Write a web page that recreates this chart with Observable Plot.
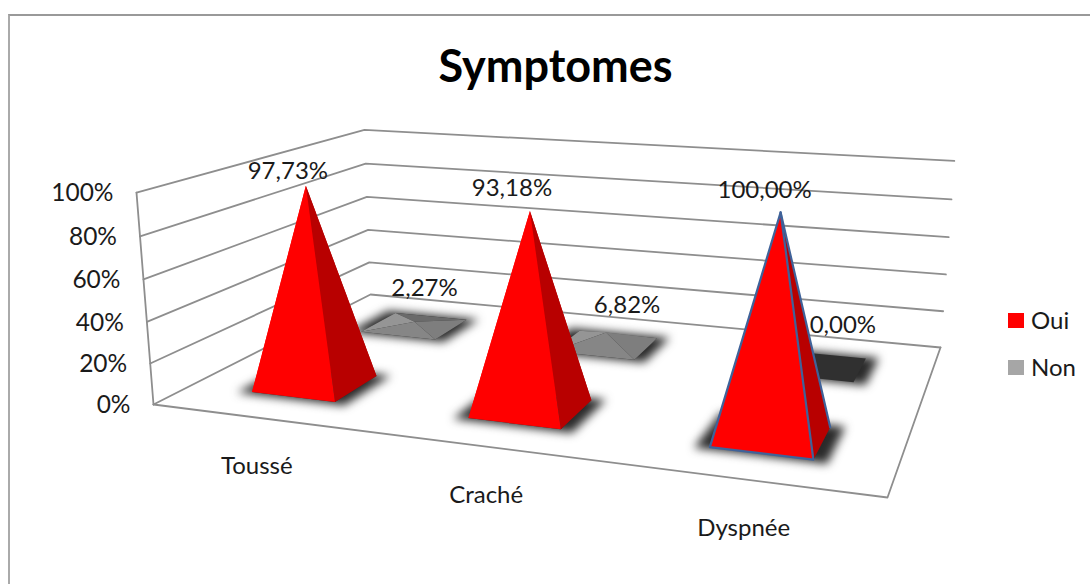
<!DOCTYPE html>
<html lang="fr">
<head>
<meta charset="utf-8">
<script src="https://cdn.jsdelivr.net/npm/d3@7"></script>
<script src="https://cdn.jsdelivr.net/npm/@observablehq/plot@0.6"></script>
<style>
  html, body { margin: 0; padding: 0; background: #fff; }
  #chart { position: relative; width: 1090px; height: 584px; overflow: hidden; font-family: Lato, sans-serif; color: #1a1a1a; }
  #frame { position: absolute; left: 8px; top: 14px; right: -4px; bottom: -4px; border-left: 2px solid #aaa; border-top: 2px solid #999; }
  #title { position: absolute; left: 0; top: 38px; width: 1111px; text-align: center; font-size: 45px; font-weight: 700; color: #000; line-height: 54px; }
  .legend-row { position: absolute; left: 1008px; display: flex; align-items: center; gap: 7px; font-size: 24px; line-height: 26px; }
  .swatch { width: 16px; height: 15px; display: inline-block; }
</style>
</head>
<body>
<div id="chart"></div>
<script>
const categories = ["Toussé", "Craché", "Dyspnée"];
const seriesNames = ["Oui", "Non"];
const oui = [97.73, 93.18, 100.0];
const non = [2.27, 6.82, 0.0];
const ticks = [0, 20, 40, 60, 80, 100];

// Camera: the floor corners on screen (front-left, front-right, back-right,
// back-left), the point where the verticals converge, and the strength of
// the vertical axis.
const floorQuad = [[153, 404], [887, 497], [940, 347], [370, 294]];
const verticalVanish = [560, 5477];
const verticalGain = -0.0401;

const camera = (() => {
  const [[x0, y0], [x1, y1], [x2, y2], [x3, y3]] = floorQuad;
  const dx1 = x1 - x2, dx2 = x3 - x2, sx = x0 - x1 + x2 - x3;
  const dy1 = y1 - y2, dy2 = y3 - y2, sy = y0 - y1 + y2 - y3;
  const den = dx1 * dy2 - dx2 * dy1;
  const g = (sx * dy2 - dx2 * sy) / den;
  const h = (dx1 * sy - sx * dy1) / den;
  return {
    a: x1 - x0 + g * x1, b: x3 - x0 + h * x3, c: x0,
    d: y1 - y0 + g * y1, e: y3 - y0 + h * y3, f: y0, g, h
  };
})();

// u runs along the categories, v into the depth, value is in percent.
function project(u, v, value) {
  const { a, b, c, d, e, f, g, h } = camera;
  const t = (verticalGain * value) / 100;
  const w = g * u + h * v + 1 + t;
  return {
    x: (a * u + b * v + c + t * verticalVanish[0]) / w,
    y: (d * u + e * v + f + t * verticalVanish[1]) / w
  };
}

// Gridlines on the left and back walls, then the floor outline.
const gridLines = ticks.flatMap((t) => [
  { id: t, ...project(0, 0, t) }, { id: t, ...project(0, 1, t) }, { id: t, ...project(1, 1, t) }
]);
const floorEdge = [[0, 0], [1, 0], [1, 1]].map(([u, v]) => project(u, v, 0));
const wallEdge = [project(0, 0, 100), project(0, 0, 0)];

// Pyramids: half-width along the categories and along the depth.
const du = 0.066, dv = 0.097;
const faceColors = {
  Oui: { back: "#b40000", left: "#ff0000", right: "#b80000", front: "#ff0000" },
  Non: { back: "#6a6a6a", left: "#959595", right: "#7e7e7e", front: "#868686" }
};
const rows = [
  { name: "Non", v: 0.75, values: non },
  { name: "Oui", v: 0.24, values: oui }
];
const centre = (i) => (i + 0.5) / categories.length - 0.002;

const faces = [], shadows = [], bases = [];
for (const { name, v, values } of rows) {
  values.forEach((value, i) => {
    const u = centre(i);
    const corner = (su, sv, ku = 1, kv = 1) => project(u + su * du * ku, v + sv * dv * kv, 0);
    const fl = corner(-1, -1), fr = corner(1, -1), br = corner(1, 1), bl = corner(-1, 1);
    const apex = project(u, v, value);
    const id = `${name}-${i}`;
    for (const [su, sv] of [[-1, -1], [1, -1], [1, 1], [-1, 1]]) {
      shadows.push({ id, ...corner(su, sv, 1.28, 1.14) });
    }
    for (const p of [fl, fr, br, bl]) bases.push({ id, ...p });
    if (value <= 0) return;
    const sides = { back: [bl, br], left: [fl, bl], right: [fr, br], front: [fl, fr] };
    for (const side of ["back", "left", "right", "front"]) {
      for (const p of [...sides[side], apex]) {
        faces.push({ id: `${id}-${side}`, fill: faceColors[name][side], ...p });
      }
    }
  });
}

// The last category of the front row carries a blue outline.
const outlineAt = (() => {
  const u = centre(2), v = rows[1].v, value = oui[2];
  const p = (su, sv) => project(u + su * du, v + sv * dv, 0);
  const apex = project(u, v, value);
  return [
    ...[p(-1, -1), p(1, -1), apex].map((q) => ({ id: "front", ...q })),
    ...[apex, p(1, 1)].map((q) => ({ id: "ridge", ...q }))
  ];
})();

// Value labels sit near the tip of each pyramid, each with its own nudge.
const ouiNudge = [[-18, -14], [-18, -23], [-16, -22]];
const nonNudge = [[10, -33], [21, -27], [27, -40]];
const valueFmt = (n) => n.toFixed(2).replace(".", ",") + "%";
const valueLabels = [
  ...oui.map((n, i) => ({ text: valueFmt(n), nudge: ouiNudge[i], ...project(centre(i), rows[1].v, n) })),
  ...non.map((n, i) => ({ text: valueFmt(n), nudge: nonNudge[i], ...project(centre(i), rows[0].v, n) }))
];
const tickLabels = ticks.map((t) => ({ text: `${t}%`, ...project(0, 0, t) }));
const categoryLabels = categories.map((text, i) => ({ text, ...project(centre(i), 0, 0) }));

// Soft edge for the contact shadows under the pyramids.
const softened = (index, scales, values, dims, ctx, next) => {
  const g = next(index, scales, values, dims, ctx);
  g.style.filter = "blur(5px)";
  return g;
};

const grey = "#8e8e8e";
const ink = "#1a1a1a";
const svg = Plot.plot({
  width: 1090,
  height: 584,
  margin: 0,
  x: { domain: [0, 1090], range: [0, 1090], axis: null },
  y: { domain: [0, 584], range: [0, 584], axis: null },
  color: { type: "identity" },
  style: { background: "transparent", fontFamily: "Lato, sans-serif", color: ink },
  marks: [
    Plot.line(gridLines, { x: "x", y: "y", z: "id", stroke: grey, strokeWidth: 1.8 }),
    Plot.line(wallEdge, { x: "x", y: "y", stroke: grey, strokeWidth: 1.8 }),
    Plot.line(floorEdge, { x: "x", y: "y", stroke: grey, strokeWidth: 1.8 }),
    Plot.line(shadows, { x: "x", y: "y", z: "id", curve: "linear-closed", fill: "#2a2a2a", stroke: "none", render: softened }),
    Plot.line(bases, { x: "x", y: "y", z: "id", curve: "linear-closed", fill: "#303030", stroke: "none" }),
    Plot.line(faces, { x: "x", y: "y", z: "id", curve: "linear-closed", fill: "fill", stroke: "none" }),
    Plot.line(outlineAt, { x: "x", y: "y", z: "id", curve: "linear-closed", stroke: "#3f6299", strokeWidth: 2.2, strokeLinejoin: "round" }),
    Plot.text(tickLabels, { x: "x", y: "y", text: "text", dx: -23, dy: 1, textAnchor: "end", fontSize: 24.5, fill: ink }),
    Plot.text(categoryLabels, { x: "x", y: "y", text: "text", dx: -1, dy: 49, fontSize: 24, fill: ink }),
    ...valueLabels.map((d) => Plot.text([d], { x: "x", y: "y", text: "text", dx: d.nudge[0], dy: d.nudge[1], fontSize: 24, fill: ink }))
  ]
});

const chart = document.getElementById("chart");
const frame = Object.assign(document.createElement("div"), { id: "frame" });
const title = Object.assign(document.createElement("div"), { id: "title", textContent: "Symptomes" });
chart.append(frame, svg, title);

// Legend at the right of the plot.
const swatchColors = ["#ff0000", "#a6a6a6"];
seriesNames.forEach((name, i) => {
  const row = document.createElement("div");
  row.className = "legend-row";
  row.style.top = `${307 + i * 47}px`;
  const sw = document.createElement("span");
  sw.className = "swatch";
  sw.style.background = swatchColors[i];
  row.append(sw, document.createTextNode(name));
  chart.append(row);
});
svg.style.position = "absolute";
svg.style.left = "0";
svg.style.top = "0";
</script>
</body>
</html>
